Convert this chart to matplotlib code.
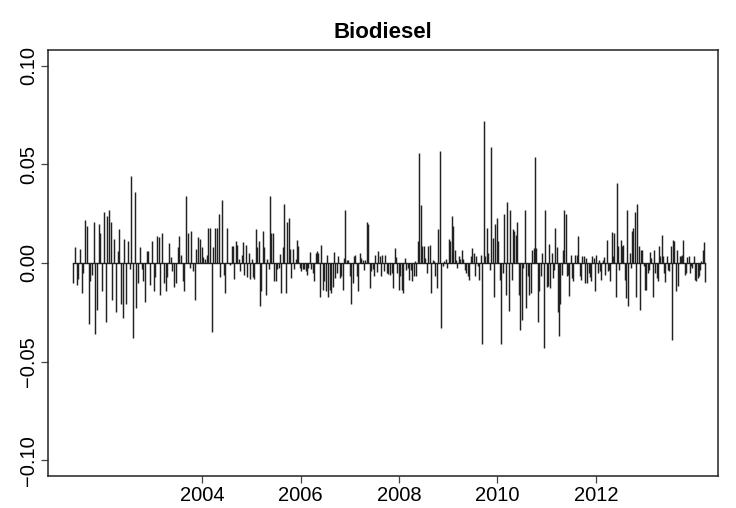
import numpy as np
import matplotlib
matplotlib.use("Agg")
import matplotlib.pyplot as plt

# weekly biodiesel returns (left to right)
ret_part1 = [
    -0.010, 0.008, -0.011, -0.008, 0.007, -0.015, -0.005, 0.022, 0.019, -0.031,
    -0.009, -0.006, 0.021, -0.036, -0.024, 0.020, 0.015, -0.014, 0.026, -0.030,
    0.024, 0.027, 0.021, -0.019, 0.012, -0.025, 0.006, 0.017, -0.021, -0.028,
    0.012, -0.021, 0.011, -0.003, 0.044, -0.038, 0.036, -0.023, -0.010, 0.008,
    -0.003, -0.009, -0.020, 0.006, 0.006, -0.011, 0.011, -0.014, -0.007, 0.0135,
    0.013, -0.016, 0.015, -0.010, -0.014, -0.007, 0.010, 0.003, -0.004, -0.012,
    -0.010, 0.008, 0.0135, 0.004, -0.009, -0.014, 0.034, 0.015, -0.0025, 0.016,
    -0.004, -0.019, 0.007, 0.013, 0.012, 0.008, 0.003, 0.002, 0.004, 0.018,
    0.018, -0.035, 0.008, 0.018, 0.018, 0.025, -0.007, 0.032, -0.006, -0.015,
    0.018,
]
ret_part2 = [
    -0.001, 0.0085, 0.0085, -0.008, 0.011, 0.009, 0.002, -0.004, 0.004, 0.0105,
    -0.006, 0.009, -0.007, 0.005, -0.008, 0.002, -0.007, -0.008, 0.017, 0.008,
    0.011, -0.022, -0.014, 0.016, 0.008, -0.016, 0.002, -0.003, 0.034, 0.015,
    0.015, -0.009, -0.009, -0.003, -0.0025, 0.0047, -0.015, 0.008, 0.030, -0.015,
    0.021, 0.023, 0.007, -0.0076, 0.007, -0.003, 0.002, 0.0115, 0.0085, -0.0025,
    -0.004, -0.003, -0.003, -0.004, -0.006, -0.0025, 0.0054, -0.003, -0.005, -0.009,
    0.005, 0.006, 0.005, -0.017, 0.009, -0.0135, -0.009, -0.014, 0.004, -0.017,
    -0.0135, -0.015, -0.012, 0.0054, -0.0076, -0.005, 0.0034, -0.0076, -0.0068, -0.0135,
    0.0025, 0.027, 0.0017, 0.0017, -0.0068, -0.021, -0.010, 0.0034, 0.0042, -0.0068,
    -0.0144, 0.005, 0.0025, 0.0017, -0.0034, 0.0017, 0.021, 0.020, -0.0127, -0.0042,
    -0.003, -0.0068, 0.0042, -0.0047, 0.0059, 0.0034, -0.0068, 0.0042, -0.0042, 0.0042,
    -0.005, -0.0054,
]
ret_part3 = [
    -0.006, -0.005, -0.0127, 0.0076, 0.003, -0.005, -0.0135, -0.0068, -0.0135, -0.015,
    0.0025, -0.0034, -0.0025, -0.0085, -0.0034, -0.0093, -0.0068, 0.0008, -0.0068, 0.011,
    0.056, 0.0296, 0.0085, 0.0085, 0.0025, -0.005, 0.0088, 0.0093, -0.015, 0.0017,
    0.0008, -0.0068, -0.0127, 0.017, 0.057, -0.033, -0.0017, 0.0008, 0.002, -0.0025,
    0.012, 0.011, 0.0237, 0.0186, 0.0068, 0.0017, -0.0025, 0.0034, 0.002, 0.0068,
    0.002, -0.0034, -0.005, -0.0068, -0.0085, 0.0034, 0.0076, 0.005, -0.0068, 0.0034,
    -0.0017, -0.0085, 0.0042, -0.041, 0.072, 0.0034, 0.0178, 0.005, -0.0034, 0.059,
    0.0127, -0.017, 0.020, 0.023, 0.011, -0.0085, -0.041, -0.005, 0.025, -0.016,
    0.031, -0.0245, 0.027, -0.0085, 0.017, 0.016, 0.0144, 0.021, -0.016, -0.034,
    -0.029, -0.0025, 0.027, -0.023, -0.0068, -0.016, -0.015, 0.0068, 0.0076, 0.054,
    0.0076, -0.030, -0.0144, -0.0068, 0.005, -0.043, 0.027, -0.012,
]
ret_part4 = [
    -0.0118, 0.0098, -0.0127, 0.005, -0.0076, -0.0034, 0.018, 0.0081, -0.025, -0.037,
    -0.021, -0.006, 0.0068, 0.027, 0.025, -0.0068, -0.006, -0.0166, 0.0042, -0.0076,
    -0.0093, 0.0042, 0.0, 0.0042, 0.0139, -0.0068, -0.0085, 0.0037, 0.0037, -0.010,
    0.0025, -0.010, -0.005, -0.007, -0.0093, 0.0034, 0.0025, -0.0144, 0.0042, -0.005,
    0.0017, -0.0042, -0.0085, 0.0014, 0.003, -0.0059, 0.0115, -0.0042, -0.0034, -0.0093,
    0.0156, 0.0034, 0.015, -0.017, 0.0406, 0.0085, -0.0034, 0.0118, 0.0085, 0.0093,
    -0.0085, -0.0178, 0.027, -0.022, 0.005, -0.0025, 0.016, 0.018, 0.026, -0.017,
    0.030, 0.0085, -0.024, 0.0068, 0.0064, -0.0017, -0.0135, -0.0135, -0.005, -0.0034,
    0.0054, 0.0025, -0.017, 0.0064, -0.005, -0.0076, -0.0093, 0.0088, 0.0034, 0.0144,
    0.0037, -0.005, -0.0098, 0.0037, -0.0034, -0.0042, 0.0085, -0.039, 0.0118, 0.011,
    -0.0144, 0.0068, -0.0118, 0.0034, 0.0037, 0.0042, 0.0118, -0.006, -0.005, 0.003,
    0.0037, -0.005, -0.0017, -0.0025, 0.0037, -0.0088, -0.0093, -0.0076, -0.0068, -0.0034,
    0.0008, 0.0068, 0.0105, -0.0098,
]
# time span (decimal years) covered by each part
part_spans = [(2001.38, 2004.51), (2004.57, 2007.78), (2007.82, 2011.0), (2011.02, 2014.22)]
x_range = (2000.87, 2014.48)
x_ticks = [2004, 2006, 2008, 2010, 2012]
y_ticks = [-0.10, -0.05, 0.00, 0.05, 0.10]
y_labels = ["\u22120.10", "\u22120.05", "0.00", "0.05", "0.10"]

parts = [ret_part1, ret_part2, ret_part3, ret_part4]
t = np.concatenate([np.linspace(a, b, len(p)) for p, (a, b) in zip(parts, part_spans)])
returns = np.concatenate([np.array(p) for p in parts])

plt.rcParams['font.family'] = ['Liberation Sans', 'DejaVu Sans']

fig = plt.figure(figsize=(7.36, 5.08), dpi=100)
ax = fig.add_axes([48 / 736, 32 / 508, 670 / 736, 426 / 508])

ax.vlines(t, 0, returns, colors='#222222', linewidth=1.05)
ax.plot([t[0], t[-1]], [0, 0], color='#222222', linewidth=1.0)

ax.set_xlim(*x_range)
ax.set_ylim(-0.108, 0.108)

ax.set_xticks(x_ticks)
ax.set_xticklabels([str(v) for v in x_ticks], fontsize=14.5)
ax.set_yticks(y_ticks)
ax.set_yticklabels(y_labels, fontsize=14.5, rotation=90, va='center')
ax.tick_params(axis='both', direction='out', length=5, width=0.9,
               color='#444444', pad=2)
for s in ax.spines.values():
    s.set_linewidth(1.1)
    s.set_color('#222222')

ax.set_title('Biodiesel', fontsize=16, fontweight='bold', pad=9)

fig.savefig('out.png', dpi=100)
